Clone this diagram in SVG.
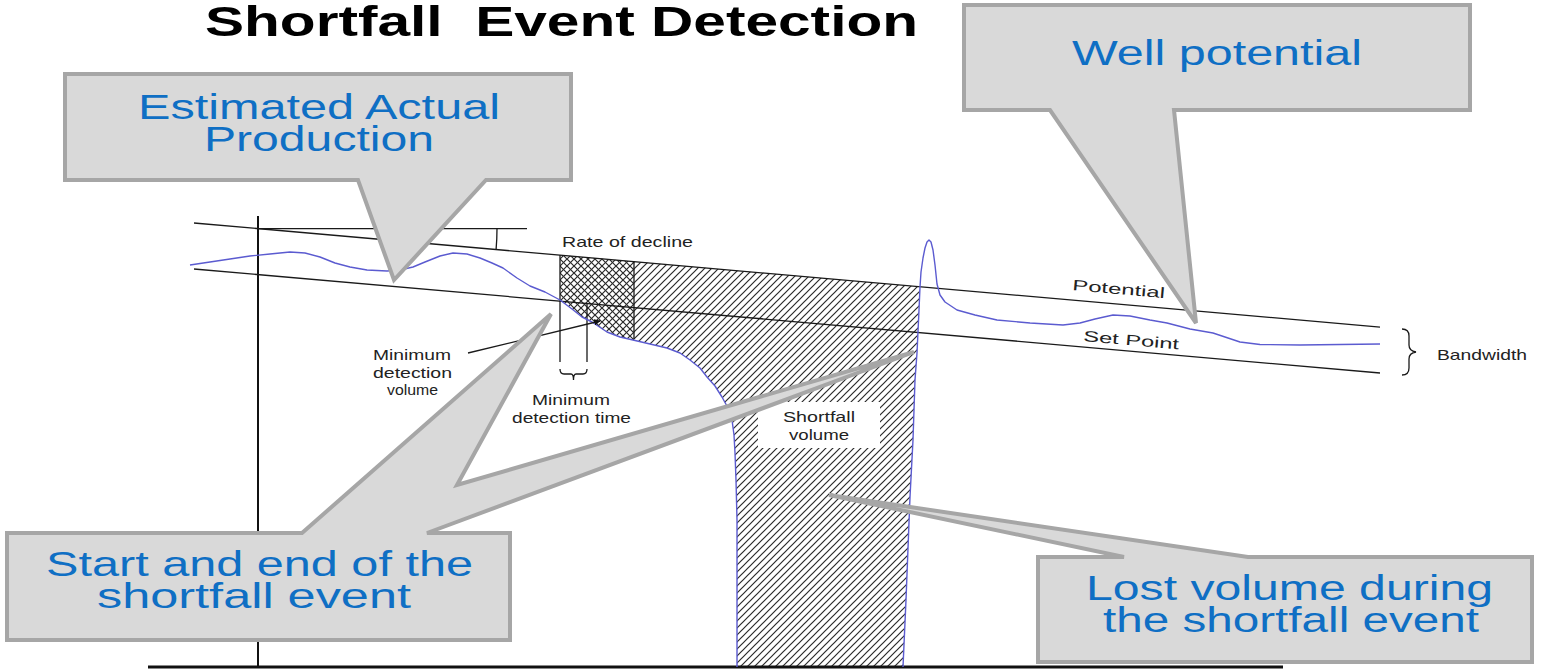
<svg xmlns="http://www.w3.org/2000/svg" width="1547" height="670" viewBox="0 0 1547 670">
  <style>
    .ln { fill: none; stroke: #1a1a1a; stroke-width: 1.3; }
    .axis { fill: none; stroke: #111; }
    .flow { fill: none; stroke: #5b5bd0; stroke-width: 1.4; stroke-linejoin: round; }
    .lbl { font-family: "Liberation Sans", Arial, sans-serif; font-size: 15px; fill: #222; }
    .call { fill: #d9d9d9; stroke: #a6a6a6; stroke-width: 4; stroke-linejoin: miter; }
    .ctext { font-family: "Liberation Sans", Arial, sans-serif; font-size: 35px; fill: #0f6fc4; }
    .title { font-family: "Liberation Sans", Arial, sans-serif; font-size: 42px; font-weight: bold; fill: #000; }
  </style>
  <defs>
    <pattern id="hatchFwd" patternUnits="userSpaceOnUse" width="7" height="7">
      <path d="M-1,1 L1,-1 M0,7 L7,0 M6,8 L8,6" stroke="#2a2a2a" stroke-width="1.2"/>
    </pattern>
    <pattern id="hatchBack" patternUnits="userSpaceOnUse" width="7" height="7">
      <path d="M-1,6 L1,8 M0,0 L7,7 M6,-1 L8,1" stroke="#2a2a2a" stroke-width="1.2"/>
    </pattern>
    <clipPath id="detectWindow">
      <rect x="560" y="240" width="74" height="120"/>
    </clipPath>
    <marker id="tip" viewBox="0 0 10 10" refX="9" refY="5" markerWidth="5" markerHeight="5" orient="auto">
      <path d="M0,0 L10,5 L0,10 Z" fill="#111"/>
    </marker>
  </defs>

  <rect width="1547" height="670" fill="#fff"/>

  <!-- title -->
  <text class="title" x="205" y="36" textLength="713" lengthAdjust="spacingAndGlyphs">Shortfall&#160; Event Detection</text>

  <!-- shortfall area: single hatch over the whole loss, cross hatch over the detection window -->
  <g id="shortfall-area">
    <path fill="url(#hatchFwd)" d="M560,255.1 L920,286.7 L919,310 L917,353 L915,380 L913,440 L910,497 L906,600 L903,667 L737,667 L737,520 L736,480 L735,453 L734,435 L732,420 L728,408 L722,397 L715,386 L707,377 L700,368 L690,360 L680,353 L667,348 L650,344 L633,340 L620,337 L607,332 L592,322 L582,317 L572,309 L560,300 Z"/>
    <path fill="url(#hatchBack)" clip-path="url(#detectWindow)" d="M560,255.1 L920,286.7 L919,310 L917,353 L915,380 L913,440 L910,497 L906,600 L903,667 L737,667 L737,520 L736,480 L735,453 L734,435 L732,420 L728,408 L722,397 L715,386 L707,377 L700,368 L690,360 L680,353 L667,348 L650,344 L633,340 L620,337 L607,332 L592,322 L582,317 L572,309 L560,300 Z"/>
    <rect x="758" y="402" width="122" height="46" fill="#fff"/>
  </g>

  <!-- axes and reference lines -->
  <g id="axes">
    <line class="axis" x1="258" y1="216" x2="258" y2="667" stroke-width="2"/>
    <line class="axis" x1="148" y1="667" x2="1283" y2="667" stroke-width="3"/>
  </g>
  <g id="potential-line">
    <line class="ln" x1="194" y1="223" x2="1380" y2="327.1"/>
  </g>
  <g id="setpoint-line">
    <line class="ln" x1="194" y1="269" x2="1380" y2="373"/>
  </g>
  <g id="decline-angle">
    <line class="ln" x1="258" y1="228.6" x2="527" y2="228.6"/>
    <path class="ln" d="M497,228.6 A239,239 0 0 1 496.1,249.4"/>
  </g>
  <g id="detection-window">
    <line class="ln" x1="560" y1="255.1" x2="560" y2="362"/>
    <line class="ln" x1="587" y1="303.5" x2="587" y2="362"/>
    <line class="ln" x1="634" y1="261.6" x2="634" y2="339"/>
    <path class="ln" d="M560,369 Q560,374 564,374 L571,374 Q573.5,374 573.5,380 Q573.5,374 576,374 L583,374 Q587,374 587,369"/>
  </g>
  <g id="bandwidth-brace">
    <path class="ln" d="M1402,329 Q1409,329 1409,336 V345 Q1409,351 1416,352 Q1409,353 1409,359 V368 Q1409,375 1402,375"/>
  </g>

  <!-- estimated actual production -->
  <g id="production-curve">
    <polyline class="flow" points="190,265 210,262 230,259 250,256 270,254 290,252 305,253 320,257 335,263 350,267 367,270 387,271 400,270 413,267 425,262 440,256 453,253 467,254 480,258 492,263 503,268 517,278 530,286 545,292 560,300 572,309 582,317 592,322 607,332 620,337 633,340 650,344 667,348 680,353 690,360 700,368 707,377 715,386 722,397 728,408 732,420 734,435 735,453 736,480 737,520 737,667"/>
    <polyline class="flow" points="903,667 906,600 910,497 913,440 915,380 917,353 919,310 920,287 921,272 923,258 925,248 927,242 929,240 931,242 933,250 935,265 937,284 940,295 945,302 957,310 975,315 997,320 1030,323 1063,325 1080,323 1095,319 1113,315 1130,316 1150,320 1167,323 1190,329 1213,333 1240,342 1260,344.5 1300,345 1380,344"/>
  </g>

  <!-- leader for the minimum detection volume -->
  <g id="connectors">
    <line class="ln" x1="468" y1="353" x2="600" y2="321" marker-end="url(#tip)"/>
  </g>

  <!-- chart labels -->
  <g id="chart-labels">
    <text class="lbl" x="562" y="247" font-size="14" textLength="131" lengthAdjust="spacingAndGlyphs">Rate of decline</text>
    <text class="lbl" x="1072" y="290" font-size="16" textLength="93" lengthAdjust="spacingAndGlyphs" transform="rotate(5 1072 290)">Potential</text>
    <text class="lbl" x="1083" y="341" font-size="16" textLength="96" lengthAdjust="spacingAndGlyphs" transform="rotate(5 1083 341)">Set Point</text>
    <text class="lbl" x="1437" y="360" font-size="14" textLength="90" lengthAdjust="spacingAndGlyphs">Bandwidth</text>
    <text class="lbl" x="373" y="360" textLength="78" lengthAdjust="spacingAndGlyphs">Minimum</text>
    <text class="lbl" x="373" y="378" textLength="79" lengthAdjust="spacingAndGlyphs">detection</text>
    <text class="lbl" x="387" y="395" textLength="51" lengthAdjust="spacingAndGlyphs">volume</text>
    <text class="lbl" x="532" y="405" textLength="78" lengthAdjust="spacingAndGlyphs">Minimum</text>
    <text class="lbl" x="512" y="423" textLength="119" lengthAdjust="spacingAndGlyphs">detection time</text>
    <text class="lbl" x="783" y="422" textLength="72" lengthAdjust="spacingAndGlyphs">Shortfall</text>
    <text class="lbl" x="789" y="440" textLength="60" lengthAdjust="spacingAndGlyphs">volume</text>
  </g>

  <!-- callouts -->
  <g id="callout-production">
    <path class="call" d="M65,74 H571 V180 H486 L394,280 L358,180 H65 Z"/>
    <text class="ctext" x="138" y="119" textLength="362" lengthAdjust="spacingAndGlyphs">Estimated Actual</text>
    <text class="ctext" x="204" y="151" textLength="230" lengthAdjust="spacingAndGlyphs">Production</text>
  </g>
  <g id="callout-potential">
    <path class="call" d="M964,5 H1470 V110 H1174 L1196,323 L1050,110 H964 Z"/>
    <text class="ctext" x="1072" y="65" textLength="290" lengthAdjust="spacingAndGlyphs">Well potential</text>
  </g>
  <g id="callout-start-end">
    <path class="call" d="M7,533 H302 L551,314 L457,485 L914,352 L427,533 H510 V640 H7 Z"/>
    <text class="ctext" x="46" y="576" textLength="427" lengthAdjust="spacingAndGlyphs">Start and end of the</text>
    <text class="ctext" x="97" y="608" textLength="314" lengthAdjust="spacingAndGlyphs">shortfall event</text>
  </g>
  <g id="callout-lost-volume">
    <path class="call" d="M1038,557 H1124 L829,495 L1248,557 H1532 V662 H1038 Z"/>
    <text class="ctext" x="1086" y="600" textLength="407" lengthAdjust="spacingAndGlyphs">Lost volume during</text>
    <text class="ctext" x="1103" y="632" textLength="376" lengthAdjust="spacingAndGlyphs">the shortfall event</text>
  </g>
</svg>
